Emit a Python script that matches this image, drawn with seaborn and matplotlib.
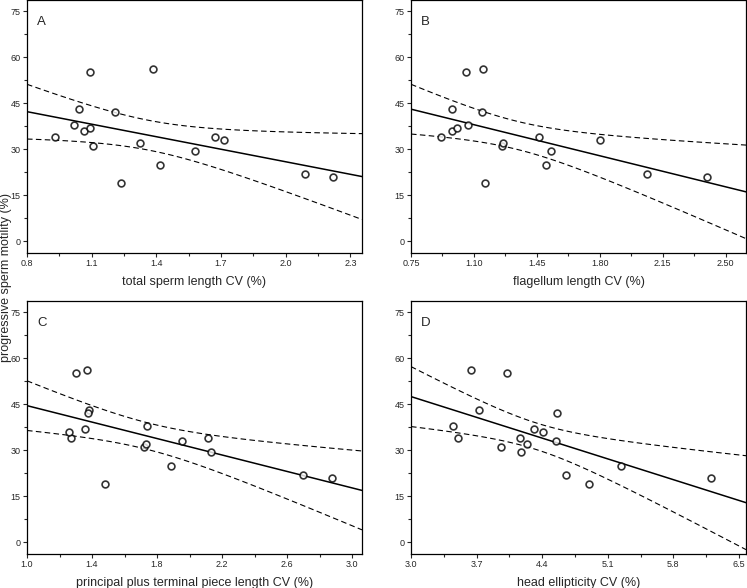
import numpy as np
import pandas as pd
import matplotlib
matplotlib.use('agg')
import matplotlib.pyplot as plt
from matplotlib.ticker import MultipleLocator, AutoMinorLocator
import seaborn as sns

# motilidad progresiva (%) de cada macho, mismo orden en los cuatro paneles
motilidad = [34, 38, 43, 36, 55, 37, 31, 42, 19, 32, 56, 25, 29.5, 34, 33, 22, 21]

# coeficientes de variación (%) por panel
cv_total = [0.93, 1.016, 1.04, 1.066, 1.091, 1.091, 1.108, 1.21, 1.236, 1.326,
            1.386, 1.418, 1.579, 1.672, 1.715, 2.091, 2.218]
cv_flagelo = [0.915, 1.069, 0.98, 0.98, 1.058, 1.008, 1.258, 1.145, 1.16, 1.26,
              1.153, 1.50, 1.528, 1.463, 1.799, 2.062, 2.394]
cv_pieza = [1.272, 1.739, 1.383, 1.26, 1.299, 1.356, 1.721, 1.377, 1.477, 1.731,
            1.371, 1.888, 2.13, 2.114, 1.951, 2.695, 2.877]
cv_cabeza = [3.506, 3.449, 3.73, 4.406, 4.025, 4.31, 3.965, 4.556, 4.901, 4.243,
             3.644, 5.243, 4.171, 4.161, 4.545, 4.659, 6.197]

paneles = ['A', 'B', 'C', 'D']
etiquetas_x = ['total sperm length CV (%)', 'flagellum length CV (%)',
               'principal plus terminal piece length CV (%)', 'head ellipticity CV (%)']
limites_x = [(0.8, 2.354), (0.75, 2.613), (1.0, 3.061), (3.0, 6.575)]
ticks_x = [[0.8, 1.1, 1.4, 1.7, 2.0, 2.3],
           [0.75, 1.10, 1.45, 1.80, 2.15, 2.50],
           [1.0, 1.4, 1.8, 2.2, 2.6, 3.0],
           [3.0, 3.7, 4.4, 5.1, 5.8, 6.5]]
formatos_x = ['%.1f', '%.2f', '%.1f', '%.1f']

T_CRIT = 2.131  # t de student, 95 %, gl = 15

sns.set_style('ticks')
plt.rcParams['font.family'] = ['Liberation Sans', 'DejaVu Sans']
plt.rcParams['axes.linewidth'] = 0.9

fig = plt.figure(figsize=(7.47, 5.88), dpi=100)
W, H = 747, 588
cajas = [(27, 0, 362, 253), (411, 0, 746, 253), (27, 301, 362, 554), (411, 301, 746, 554)]

datos_x = [cv_total, cv_flagelo, cv_pieza, cv_cabeza]

for i, (x0, y0, x1, y1) in enumerate(cajas):
    ax = fig.add_axes([x0 / W, 1 - y1 / H, (x1 - x0) / W, (y1 - y0) / H])
    df = pd.DataFrame({'cv': datos_x[i], 'mot': motilidad})
    ax.set_xlim(*limites_x[i])
    ax.set_ylim(-3.8, 78.6)

    sns.regplot(data=df, x='cv', y='mot', ax=ax, ci=None, truncate=False,
                scatter_kws={'s': 24, 'facecolor': 'white', 'edgecolor': 'black',
                             'linewidths': 1.2, 'zorder': 3},
                line_kws={'color': 'black', 'lw': 1.1})

    # banda de confianza del 95 % para la media, en líneas discontinuas
    x = np.asarray(datos_x[i]); y = np.asarray(motilidad, dtype=float)
    n = len(x)
    b, a = np.polyfit(x, y, 1)
    resid = y - (a + b * x)
    s = np.sqrt(np.sum(resid ** 2) / (n - 2))
    grid = np.linspace(*limites_x[i], 100)
    se = s * np.sqrt(1 / n + (grid - x.mean()) ** 2 / np.sum((x - x.mean()) ** 2))
    ajuste = a + b * grid
    banda = pd.DataFrame({'g': np.concatenate([grid, grid]),
                          'v': np.concatenate([ajuste - T_CRIT * se, ajuste + T_CRIT * se]),
                          'lado': ['inf'] * 100 + ['sup'] * 100})
    sns.lineplot(data=banda, x='g', y='v', units='lado', estimator=None, ax=ax,
                 color='black', lw=0.8, linestyle=(0, (5, 3)))

    ax.set_xticks(ticks_x[i])
    ax.set_xticklabels([formatos_x[i] % t for t in ticks_x[i]])
    ax.xaxis.set_minor_locator(AutoMinorLocator(2))
    ax.yaxis.set_major_locator(MultipleLocator(15))
    ax.yaxis.set_minor_locator(MultipleLocator(7.5))
    ax.tick_params(which='major', length=3, width=0.8, labelsize=6.5, pad=1.5)
    ax.tick_params(which='minor', length=2, width=0.8)
    for sp in ax.spines.values():
        sp.set_visible(True)
        sp.set_color('black')
    ax.set_xlabel(etiquetas_x[i], fontsize=9, labelpad=5.5)
    ax.set_ylabel('')
    ax.text(0.03, 0.913, paneles[i], transform=ax.transAxes, fontsize=9.5,
            ha='left', va='center')

fig.text(6 / W, 1 - 277 / H, 'progressive sperm motility (%)', rotation=90,
         ha='center', va='center', fontsize=9)

fig.savefig('out.png', dpi=100)
plt.close(fig)
